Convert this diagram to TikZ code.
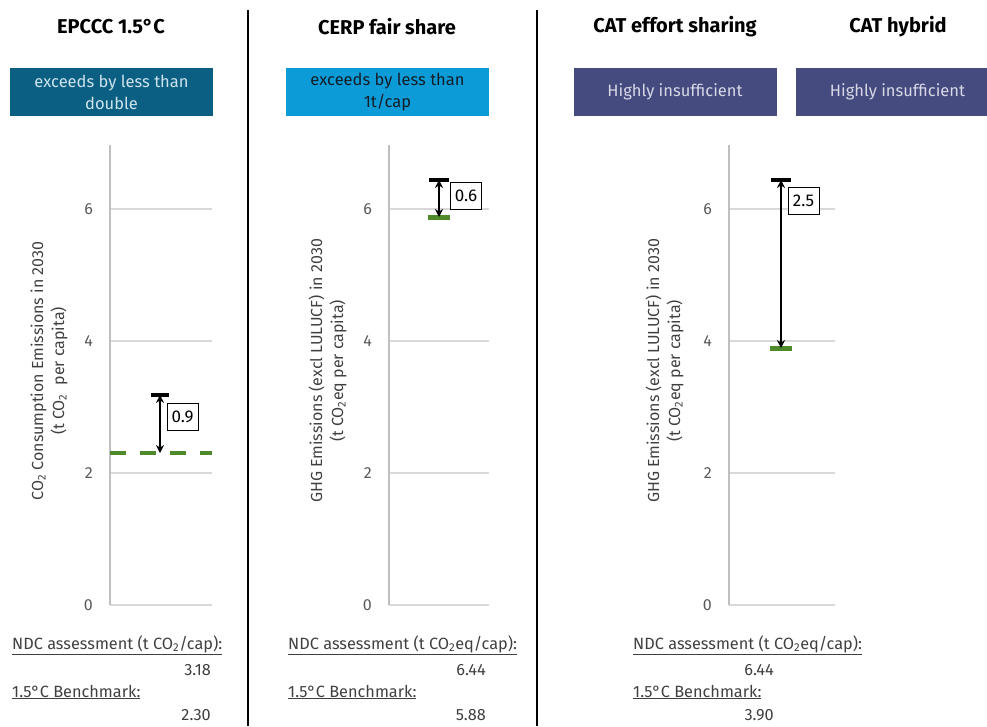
\documentclass[tikz,border=0pt]{standalone}
\usepackage{fontspec}
\setmainfont{Fira Sans}
\usetikzlibrary{arrows.meta}
\definecolor{darkteal}{HTML}{0B5F82}
\definecolor{skyblue}{HTML}{0B9BD7}
\definecolor{slateblue}{HTML}{454A7F}
\definecolor{bmgreen}{HTML}{4E8A2A}
\definecolor{gridgray}{HTML}{D9D9D9}
\definecolor{axisgray}{HTML}{BFBFBF}
\definecolor{ticktext}{HTML}{595959}
\definecolor{notetext}{HTML}{404040}

\begin{document}
\begin{tikzpicture}[x=1pt,y=-1pt,>={Stealth[length=8pt,width=8pt]}]
	\def \titlerow{27}
	\def \ratingrow{92}
	\tikzstyle{title}=[font=\fontsize{20}{24}\selectfont\bfseries,text=black]
	\tikzstyle{rating}=[minimum width=203,minimum height=48,inner sep=0pt,align=center,font=\fontsize{16.5}{22}\selectfont]
	\tikzstyle{tick}=[anchor=east,inner sep=0pt,text=ticktext,font=\fontsize{16}{18}\selectfont]
	\tikzstyle{ylab}=[rotate=90,align=center,inner sep=0pt,text=notetext,font=\fontsize{16}{21}\selectfont]
	\tikzstyle{note}=[anchor=west,inner sep=0pt,text=notetext,font=\fontsize{16.3}{18}\selectfont]
	\tikzstyle{num}=[anchor=east,inner sep=0pt,text=notetext,font=\fontsize{16.3}{18}\selectfont]
	\tikzstyle{gapbox}=[draw=black,fill=white,thin,minimum width=31,minimum height=27,inner sep=0pt,font=\fontsize{17}{18}\selectfont]
	\tikzstyle{grid}=[draw=gridgray,line width=1.2pt]
	\tikzstyle{ndcbar}=[draw=black,line width=3.5pt]
	\tikzstyle{bmbar}=[draw=bmgreen,line width=5pt]
	\tikzstyle{gap}=[<->,draw=black,line width=2.6pt]
	\useasboundingbox (0,0) rectangle (987,726);

	% separators
	\draw[line width=2pt] (248,10) -- (248,726);
	\draw[line width=2pt] (537,10) -- (537,726);

	% titles
	\node[title] (title1) at (111,\titlerow) {EPCCC 1.5°C};
	\node[title] (title2) at (387,\titlerow) {CERP fair share};
	\node[title] (title3) at (675,\titlerow) {CAT effort sharing};
	\node[title] (title4) at (898,\titlerow) {CAT hybrid};

	% ratings
	\node[rating,fill=darkteal,text={rgb,255:red,205;green,228;blue,238}] (rate1) at (111.5,\ratingrow) {exceeds by less than\\double};
	\node[rating,fill=skyblue,text={rgb,255:red,20;green,30;blue,40}] (rate2) at (387.5,\ratingrow) {exceeds by less than\\1t/cap};
	\node[rating,fill=slateblue,text={rgb,255:red,215;green,216;blue,230}] (rate3) at (675,\ratingrow) {Highly insufficient};
	\node[rating,fill=slateblue,text={rgb,255:red,215;green,216;blue,230}] (rate4) at (897.5,\ratingrow) {Highly insufficient};

	% panel 1 axes
	\path[grid] (110,209) -- (212,209) (110,341) -- (212,341) (110,473) -- (212,473) (110,605) -- (212,605);
	\draw[draw=axisgray,line width=1.2pt] (110,145) -- (110,605);
	\node[tick] (p1t6) at (93,209) {6};
	\node[tick] (p1t4) at (93,341) {4};
	\node[tick] (p1t2) at (93,473) {2};
	\node[tick] (p1t0) at (93,605) {0};
	\node[ylab] (ylab1) at (49,371) {CO\textsubscript{2} Consumption Emissions in 2030\\(t CO\textsubscript{2}\ \ per capita)};

	% panel 2 axes
	\path[grid] (389,209) -- (489,209) (389,341) -- (489,341) (389,473) -- (489,473) (389,605) -- (489,605);
	\draw[draw=axisgray,line width=1.2pt] (389,145) -- (389,605);
	\node[tick] (p2t6) at (372,209) {6};
	\node[tick] (p2t4) at (372,341) {4};
	\node[tick] (p2t2) at (372,473) {2};
	\node[tick] (p2t0) at (372,605) {0};
	\node[ylab] (ylab2) at (327.5,371) {GHG Emissions (excl LULUCF) in 2030\\(t CO\textsubscript{2}eq per capita)};

	% panel 3 axes
	\path[grid] (729,209) -- (835,209) (729,341) -- (835,341) (729,473) -- (835,473) (729,605) -- (835,605);
	\draw[draw=axisgray,line width=1.2pt] (729,145) -- (729,605);
	\node[tick] (p3t6) at (712,209) {6};
	\node[tick] (p3t4) at (712,341) {4};
	\node[tick] (p3t2) at (712,473) {2};
	\node[tick] (p3t0) at (712,605) {0};
	\node[ylab] (ylab3) at (664.5,371) {GHG Emissions (excl LULUCF) in 2030\\(t CO\textsubscript{2}eq per capita)};

	% ndc and benchmark points
	\coordinate (ndc1) at (160,395);
	\coordinate (bm1)  at (160,453);
	\coordinate (ndc2) at (439,180);
	\coordinate (bm2)  at (439,217);
	\coordinate (ndc3) at (781,180);
	\coordinate (bm3)  at (781,348);

	\draw[bmbar,line width=4pt,dash pattern=on 16pt off 14pt] (110,453) -- (212,453);
	\draw[bmbar] ([xshift=-11pt]bm2) -- ([xshift=11pt]bm2);
	\draw[bmbar] ([xshift=-11pt]bm3) -- ([xshift=11pt]bm3);

	\draw[ndcbar] ([xshift=-9pt]ndc1) -- ([xshift=9pt]ndc1);
	\draw[ndcbar] ([xshift=-10pt]ndc2) -- ([xshift=10pt]ndc2);
	\draw[ndcbar] ([xshift=-10pt]ndc3) -- ([xshift=10pt]ndc3);

	\draw[gap] (ndc1) -- (bm1);
	\draw[gap] (ndc2) -- (bm2);
	\draw[gap] (ndc3) -- (bm3);

	% gap labels
	\node[gapbox] (gap1) at (182.5,416.5) {0.9};
	\node[gapbox] (gap2) at (466,195.5) {0.6};
	\node[gapbox] (gap3) at (803.5,200.5) {2.5};

	% notes
	\node[note] (ndctxt1) at (12,645) {\underline{NDC assessment (t CO\textsubscript{2}/cap):}};
	\node[num]  (ndcval1) at (211,670) {3.18};
	\node[note] (bmtxt1)  at (12,692) {\underline{1.5°C Benchmark:}};
	\node[num]  (bmval1)  at (211,715) {2.30};

	\node[note] (ndctxt2) at (288,645) {\underline{NDC assessment (t CO\textsubscript{2}eq/cap):}};
	\node[num]  (ndcval2) at (486,670) {6.44};
	\node[note] (bmtxt2)  at (288,692) {\underline{1.5°C Benchmark:}};
	\node[num]  (bmval2)  at (486,715) {5.88};

	\node[note] (ndctxt3) at (633,645) {\underline{NDC assessment (t CO\textsubscript{2}eq/cap):}};
	\node[num]  (ndcval3) at (774,670) {6.44};
	\node[note] (bmtxt3)  at (633,692) {\underline{1.5°C Benchmark:}};
	\node[num]  (bmval3)  at (774,715) {3.90};
\end{tikzpicture}
\end{document}
